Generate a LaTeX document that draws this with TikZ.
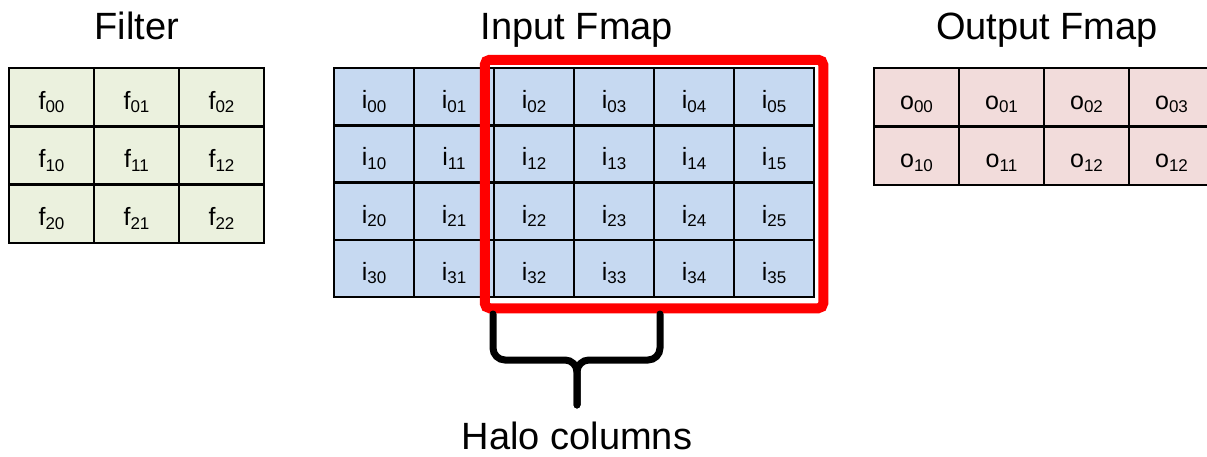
\documentclass[tikz,border=0pt]{standalone}
\usepackage{fontspec}
\setmainfont{Liberation Sans}
\newcommand\cellsub[2]{#1\raisebox{-3.5pt}{\fontsize{17}{17}\selectfont #2}}
\definecolor{fgreen}{HTML}{EBF1DE}
\definecolor{iblue}{HTML}{C6D9F1}
\definecolor{opink}{HTML}{F2DCDB}
\definecolor{halored}{HTML}{FF0000}
\tikzset{
  cellbox/.style={draw=black, line width=2.5pt, inner sep=0pt, font=\fontsize{25}{25}\selectfont},
  titletext/.style={font=\fontsize{38}{38}\selectfont, anchor=base},
  halobox/.style={draw=halored, line width=10pt, rounded corners=5pt},
  bracestyle/.style={draw=black, line width=7pt, rounded corners=12pt, line cap=round}
}
\begin{document}
\begin{tikzpicture}[x=1pt,y=-1pt]
\useasboundingbox (0,0) rectangle (1207,456);
% Filter
\foreach \r in {0,1,2}{
  \foreach \c in {0,1,2}{
    \node[cellbox, fill=fgreen, minimum width=85pt, minimum height=58.33pt]
      (f-\r-\c) at ({9+(\c+0.5)*85},{68+(\r+0.5)*58.33}) {};
    \node[anchor=base, inner sep=0pt, font=\fontsize{25}{25}\selectfont] (fl-\r-\c) at ([yshift=-12pt]f-\r-\c.center) {\cellsub{f}{\r\c}};
  }
}
% Input
\foreach \r in {0,1,2,3}{
  \foreach \c in {0,...,5}{
    \node[cellbox, fill=iblue, minimum width=80pt, minimum height=57.25pt]
      (i-\r-\c) at ({334+(\c+0.5)*80},{68+(\r+0.5)*57.25}) {};
    \node[anchor=base, inner sep=0pt, font=\fontsize{25}{25}\selectfont] (il-\r-\c) at ([yshift=-12pt]i-\r-\c.center) {\cellsub{i}{\r\c}};
  }
}
% Output
\foreach \r/\c/\t in {0/0/00,0/1/01,0/2/02,0/3/03,1/0/10,1/1/11,1/2/12,1/3/12}{
    \node[cellbox, fill=opink, minimum width=85pt, minimum height=58.5pt]
      (o-\r-\c) at ({874+(\c+0.5)*85},{68+(\r+0.5)*58.5}) {};
    \node[anchor=base, inner sep=0pt, font=\fontsize{25}{25}\selectfont] (ol-\r-\c) at ([yshift=-12pt]o-\r-\c.center) {\cellsub{o}{\t}};
}
% Titles
\node[titletext] (tf) at (137,39) {Filter};
\node[titletext] (ti) at (577,39) {Input Fmap};
\node[titletext] (to) at (1047,39) {Output Fmap};
% Halo box
\draw[halobox] ([xshift=-8pt,yshift=7pt]i-0-2.north west) rectangle ([xshift=8pt,yshift=-10pt]i-3-5.south east);
% Brace
\coordinate (bl) at (493,314);
\coordinate (br) at (660,314);
\coordinate (bm) at (577,360);
\coordinate (bt) at (577,405);
\draw[bracestyle] (bl) |- (bm) -- (bt);
\draw[bracestyle] (br) |- (bm) -- (bt);
\node[titletext] (halo) at (577,449) {Halo columns};
\end{tikzpicture}
\end{document}
